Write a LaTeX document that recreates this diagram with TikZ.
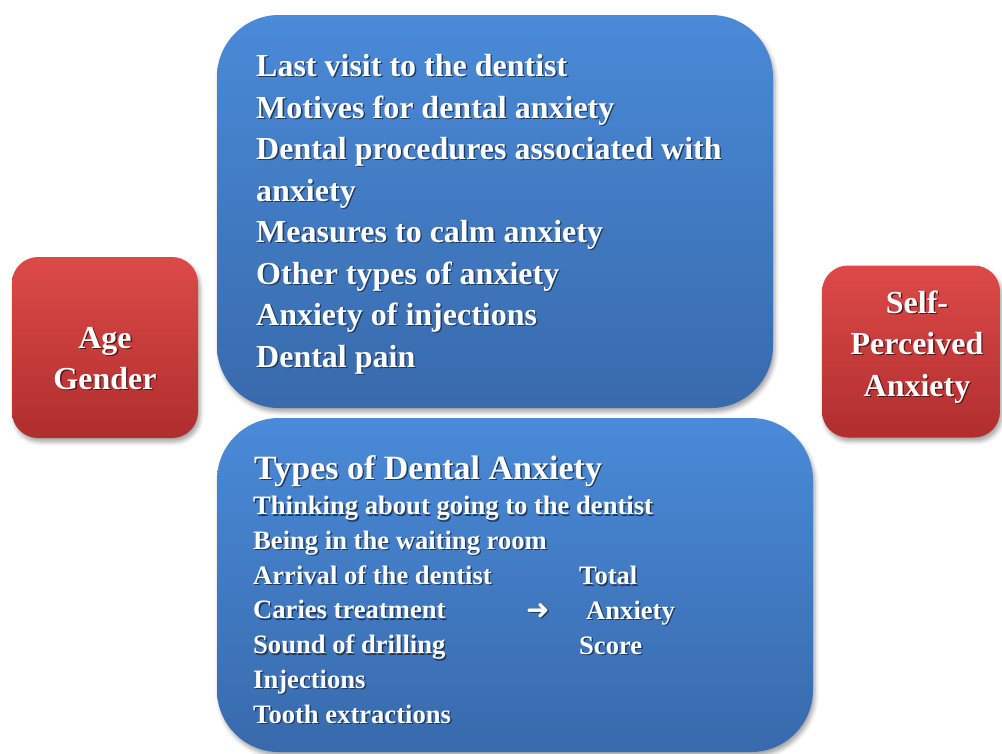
\documentclass[tikz,border=0pt]{standalone}
\usepackage{fontspec}
\setmainfont{Liberation Serif}
\newfontfamily\arrowfont{DejaVu Sans}
\usetikzlibrary{shadows.blur}

\definecolor{boxblue}{RGB}{74,138,216}
\definecolor{boxbluedark}{RGB}{56,106,172}
\definecolor{boxred}{RGB}{220,74,72}
\definecolor{boxreddark}{RGB}{176,46,46}
\colorlet{blueshade}{boxbluedark!55!black}
\colorlet{redshade}{boxreddark!50!black}

% white text with a small dark drop shadow
\newcommand{\sh}[2][blueshade]{\rlap{\kern1.4pt\raisebox{-1.4pt}{\textcolor{#1}{#2}}}#2}

\tikzset{
    panel/.style={rounded corners=#1, inner sep=0pt,
        blur shadow={shadow xshift=2pt, shadow yshift=-4pt,
            shadow blur radius=4pt, shadow opacity=35}},
    bluepanel/.style={panel=62pt, top color=boxblue, bottom color=boxbluedark},
    redpanel/.style={panel=26pt, top color=boxred, bottom color=boxreddark},
    label/.style={text=white, inner sep=0pt, font=\bfseries}
}

\begin{document}
\begin{tikzpicture}[x=1pt, y=-1pt]
    \useasboundingbox (0,0) rectangle (1002,753);

    % the four panels
    \node[bluepanel, minimum width=556pt, minimum height=393pt] (visits) at (495,211.5) {};
    \node[bluepanel, minimum width=596pt, minimum height=334pt] (types) at (515,585) {};
    \node[redpanel, minimum width=186pt, minimum height=181pt] (agebox) at (105,347.5) {};
    \node[redpanel, minimum width=178pt, minimum height=172pt] (selfbox) at (911,351.5) {};

    % upper panel (base = last line)
    \node[label, align=left, anchor=base west, font=\fontsize{32}{41.5}\selectfont\bfseries] (visitlist) at (256,367) {%
        \sh{Last visit to the dentist}\\
        \sh{Motives for dental anxiety}\\
        \sh{Dental procedures associated with}\\
        \sh{anxiety}\\
        \sh{Measures to calm anxiety}\\
        \sh{Other types of anxiety}\\
        \sh{Anxiety of injections}\\
        \sh{Dental pain}};

    % lower panel
    \node[label, anchor=base west, font=\fontsize{34}{40}\selectfont\bfseries] (typestitle) at (254,479) {\sh{Types of Dental Anxiety}};
    \node[label, align=left, anchor=base west, font=\fontsize{26.6}{34.7}\selectfont\bfseries] (typelist) at (253,723) {%
        \sh{Thinking about going to the dentist}\\
        \sh{Being in the waiting room}\\
        \sh{Arrival of the dentist}\\
        \sh{Caries treatment}\\
        \sh{Sound of drilling}\\
        \sh{Injections}\\
        \sh{Tooth extractions}};
    \node[label, anchor=base west, font=\fontsize{28}{30}\arrowfont\bfseries] (scorearrow) at (526,619) {\sh{➜}};
    \node[label, align=left, anchor=base west, font=\fontsize{26.6}{34.7}\selectfont\bfseries] (score) at (579,654) {%
        \sh{Total}\\
        \hspace{7pt}\sh{Anxiety}\\
        \sh{Score}};

    % side panels
    \node[label, align=center, anchor=base, font=\fontsize{32}{40.5}\selectfont\bfseries] (agetext) at (105,389) {%
        \sh[redshade]{Age}\\
        \sh[redshade]{Gender}};
    \node[label, align=center, anchor=base, font=\fontsize{32}{41.5}\selectfont\bfseries] (selftext) at (917,396) {%
        \sh[redshade]{Self-}\\
        \sh[redshade]{Perceived}\\
        \sh[redshade]{Anxiety}};
\end{tikzpicture}
\end{document}
